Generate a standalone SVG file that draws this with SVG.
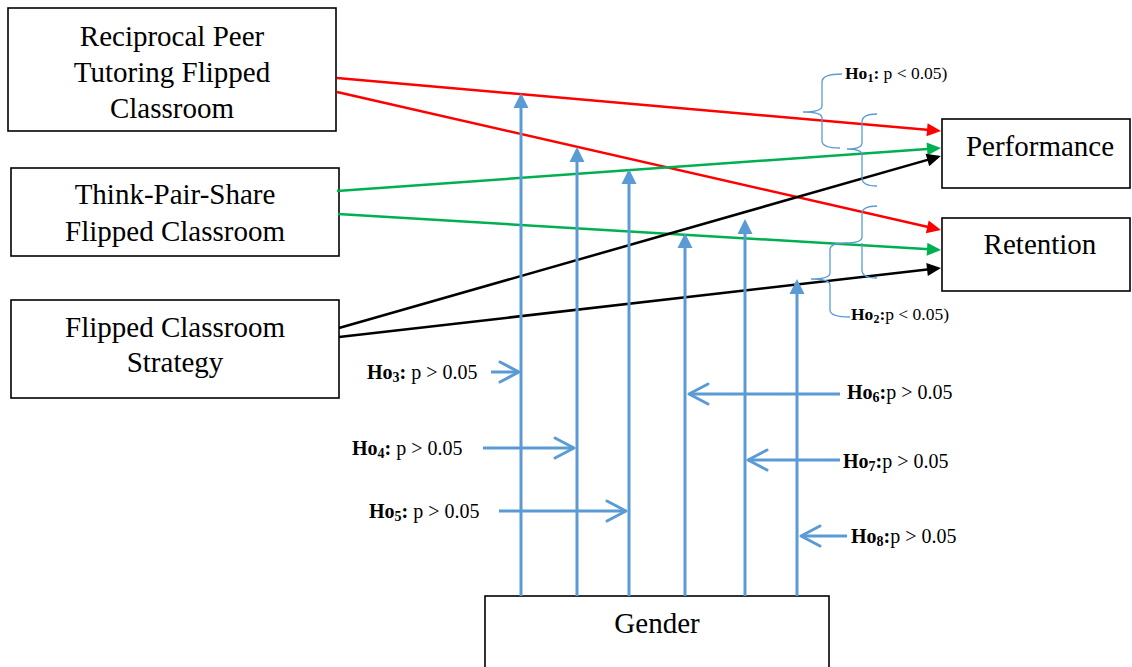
<svg xmlns="http://www.w3.org/2000/svg" width="1132" height="667" viewBox="0 0 1132 667">
<style>
.box{fill:#fff;stroke:#000;stroke-width:1.6}
.lbl{font-family:"Liberation Serif","Times New Roman",serif;font-size:29px;fill:#000;text-anchor:middle}
.ho{font-family:"Liberation Serif","Times New Roman",serif;font-size:20px;fill:#000}
.ho2{font-family:"Liberation Serif","Times New Roman",serif;font-size:17.5px;fill:#000}
.b{font-weight:bold}
.red{stroke:#FF0000;stroke-width:2.5;fill:none}
.grn{stroke:#00B050;stroke-width:2.5;fill:none}
.blk{stroke:#000;stroke-width:2.5;fill:none}
.blue{stroke:#5B9BD5;stroke-width:3;fill:none}
.brace{stroke:#5B9BD5;stroke-width:1.3;fill:none}
</style>
<defs>
<marker id="aR" markerUnits="userSpaceOnUse" markerWidth="16" markerHeight="16" refX="11" refY="6.5" orient="auto" overflow="visible"><path d="M0,0 L14,6.5 L0,13 z" fill="#FF0000"/></marker>
<marker id="aG" markerUnits="userSpaceOnUse" markerWidth="16" markerHeight="16" refX="11" refY="6.5" orient="auto" overflow="visible"><path d="M0,0 L14,6.5 L0,13 z" fill="#00B050"/></marker>
<marker id="aK" markerUnits="userSpaceOnUse" markerWidth="16" markerHeight="16" refX="11" refY="6.5" orient="auto" overflow="visible"><path d="M0,0 L14,6.5 L0,13 z" fill="#000"/></marker>
<marker id="aB" markerUnits="userSpaceOnUse" markerWidth="16" markerHeight="16" refX="12" refY="7.5" orient="auto" overflow="visible"><path d="M0,0 L15,7.5 L0,15 z" fill="#5B9BD5"/></marker>
<marker id="aO" markerUnits="userSpaceOnUse" markerWidth="24" markerHeight="24" refX="0" refY="0" orient="auto" overflow="visible"><path d="M-19,-10 L0,0 L-19,10" fill="none" stroke="#5B9BD5" stroke-width="3" stroke-linecap="round" stroke-linejoin="round"/></marker>
</defs>

<g id="node-reciprocal">
<rect class="box" x="8" y="8" width="328" height="123"/>
<text class="lbl" x="172" y="46">Reciprocal Peer</text>
<text class="lbl" x="172" y="82">Tutoring Flipped</text>
<text class="lbl" x="172" y="118">Classroom</text>
</g>
<g id="node-tps">
<rect class="box" x="11" y="168" width="328" height="88"/>
<text class="lbl" x="175" y="204">Think-Pair-Share</text>
<text class="lbl" x="175" y="241">Flipped Classroom</text>
</g>
<g id="node-fcs">
<rect class="box" x="11" y="300" width="328" height="98"/>
<text class="lbl" x="175" y="337">Flipped Classroom</text>
<text class="lbl" x="175" y="372">Strategy</text>
</g>
<g id="node-performance">
<rect class="box" x="942" y="119" width="188" height="69"/>
<text class="lbl" x="1040" y="156">Performance</text>
</g>
<g id="node-retention">
<rect class="box" x="942" y="218" width="188" height="73"/>
<text class="lbl" x="1040" y="254">Retention</text>
</g>
<g id="node-gender">
<rect class="box" x="485" y="596" width="344" height="90"/>
<text class="lbl" x="657" y="633">Gender</text>
</g>

<g id="connectors">
<line class="red" x1="337" y1="78" x2="938" y2="130.7" marker-end="url(#aR)"/>
<line class="red" x1="337" y1="92" x2="938" y2="229.3" marker-end="url(#aR)"/>
<line class="grn" x1="337" y1="191" x2="938" y2="148.2" marker-end="url(#aG)"/>
<line class="grn" x1="338" y1="214" x2="938" y2="249.8" marker-end="url(#aG)"/>
<line class="blk" x1="339" y1="328" x2="938" y2="156.9" marker-end="url(#aK)"/>
<line class="blk" x1="339" y1="337" x2="938" y2="268.3" marker-end="url(#aK)"/>

<line class="blue" x1="521" y1="596" x2="521" y2="96" marker-end="url(#aB)"/>
<line class="blue" x1="577" y1="596" x2="577" y2="150" marker-end="url(#aB)"/>
<line class="blue" x1="629" y1="596" x2="629" y2="172" marker-end="url(#aB)"/>
<line class="blue" x1="685" y1="596" x2="685" y2="236" marker-end="url(#aB)"/>
<line class="blue" x1="745" y1="596" x2="745" y2="222" marker-end="url(#aB)"/>
<line class="blue" x1="797" y1="596" x2="797" y2="282" marker-end="url(#aB)"/>

<line class="blue" x1="491" y1="372" x2="519" y2="372" marker-end="url(#aO)"/>
<line class="blue" x1="483" y1="448" x2="574" y2="448" marker-end="url(#aO)"/>
<line class="blue" x1="499" y1="511" x2="626" y2="511" marker-end="url(#aO)"/>
<line class="blue" x1="840" y1="394" x2="689" y2="394" marker-end="url(#aO)"/>
<line class="blue" x1="840" y1="460" x2="748" y2="460" marker-end="url(#aO)"/>
<line class="blue" x1="847" y1="536" x2="801" y2="536" marker-end="url(#aO)"/>

<path class="brace" d="M842,74 Q822,74 822,82 L822,106 Q822,112 803,112 Q822,112 822,118 L822,141 Q822,148 840,148"/>
<path class="brace" d="M877,114 Q862,114 862,122 L862,143 Q862,149 847,149 Q862,149 862,155 L862,178 Q862,186 877,186"/>
<path class="brace" d="M877,206 Q862,206 862,214 L862,237 Q862,243 845,243"/>
<path class="brace" d="M862,243 Q862,249 862,255 L862,270 Q862,278 877,278"/>
<path class="brace" d="M845,243 Q830,243 830,250 L830,273 Q830,279 811,279 Q830,279 830,285 L830,310 Q830,317 850,317"/>
</g>

<g id="labels">
<text class="ho2" x="845" y="79"><tspan class="b">Ho</tspan><tspan class="b" font-size="12" dy="3">1</tspan><tspan class="b" dy="-3">:</tspan> p &lt; 0.05)</text>
<text class="ho2" x="851" y="320"><tspan class="b">Ho</tspan><tspan class="b" font-size="12" dy="3">2</tspan><tspan class="b" dy="-3">:</tspan>p &lt; 0.05)</text>
<text class="ho" x="367" y="379"><tspan class="b">Ho</tspan><tspan class="b" font-size="14" dy="3">3</tspan><tspan class="b" dy="-3">:</tspan> p &gt; 0.05</text>
<text class="ho" x="352" y="455"><tspan class="b">Ho</tspan><tspan class="b" font-size="14" dy="3">4</tspan><tspan class="b" dy="-3">:</tspan> p &gt; 0.05</text>
<text class="ho" x="369" y="518"><tspan class="b">Ho</tspan><tspan class="b" font-size="14" dy="3">5</tspan><tspan class="b" dy="-3">:</tspan> p &gt; 0.05</text>
<text class="ho" x="847" y="399"><tspan class="b">Ho</tspan><tspan class="b" font-size="14" dy="3">6</tspan><tspan class="b" dy="-3">:</tspan>p &gt; 0.05</text>
<text class="ho" x="843" y="468"><tspan class="b">Ho</tspan><tspan class="b" font-size="14" dy="3">7</tspan><tspan class="b" dy="-3">:</tspan>p &gt; 0.05</text>
<text class="ho" x="851" y="543"><tspan class="b">Ho</tspan><tspan class="b" font-size="14" dy="3">8</tspan><tspan class="b" dy="-3">:</tspan>p &gt; 0.05</text>
</g>
</svg>
